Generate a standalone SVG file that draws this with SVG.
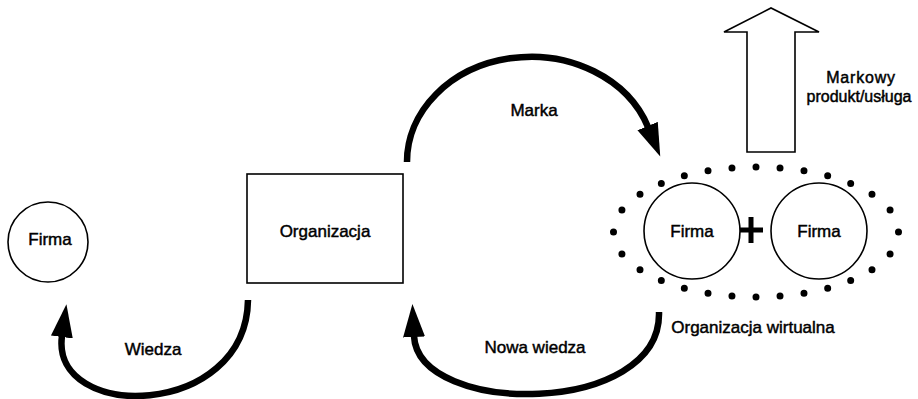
<svg xmlns="http://www.w3.org/2000/svg" width="918" height="399" viewBox="0 0 918 399">
  <style>
    .t { font-family: "Liberation Sans", Arial, sans-serif; font-size: 17px; font-weight: normal; fill: #000; stroke: #000; stroke-width: 0.45; text-anchor: middle; }
    .small { font-size: 16px; }
    .shape { fill: #fff; stroke: #000; stroke-width: 1.6; }
    .flow { fill: none; stroke: #000; stroke-width: 6.5; }
  </style>
  <defs>
    <marker id="head" markerUnits="userSpaceOnUse" markerWidth="34" markerHeight="24" refX="1" refY="12" orient="auto">
      <path d="M0,1 L33,12 L0,23 z" fill="#000"/>
    </marker>
  </defs>
  <rect width="918" height="399" fill="#fff"/>

  <g id="firma-left">
    <circle class="shape" cx="48" cy="242" r="40"/>
    <text class="t" x="50" y="245">Firma</text>
  </g>

  <g id="organizacja">
    <rect class="shape" x="247" y="174" width="156" height="109"/>
    <text class="t" x="325" y="237">Organizacja</text>
  </g>

  <g id="organizacja-wirtualna">
    <path d="M898.5,232 A142.5,65 0 1 1 613.5,232 A142.5,65 0 1 1 898.5,232" pathLength="28" fill="none" stroke="#000" stroke-width="7" stroke-linecap="round" stroke-dasharray="0 1"/>
    <g id="firma-1">
      <circle class="shape" cx="692" cy="231" r="48"/>
      <text class="t" x="692" y="237">Firma</text>
    </g>
    <g id="firma-2">
      <circle class="shape" cx="819" cy="231" r="48"/>
      <text class="t" x="819" y="237">Firma</text>
    </g>
    <path d="M740,230 H763 M751,217 V243" stroke="#000" stroke-width="5" fill="none"/>
    <text class="t" x="753" y="333">Organizacja wirtualna</text>
  </g>

  <g id="markowy-produkt">
    <path class="shape" d="M747,152 V32 H724 L771,8 L819,32 H795 V152 Z"/>
    <text class="t small" x="861" y="83" letter-spacing="0.8">Markowy</text>
    <text class="t small" x="859" y="102">produkt/usługa</text>
  </g>

  <g id="connectors">
    <path class="flow" d="M248,300 C246,420 50,422 62,336" marker-end="url(#head)"/>
    <text class="t" x="153" y="355">Wiedza</text>
    <path class="flow" d="M407,162 A124,105 0 0 1 648,127" marker-end="url(#head)"/>
    <text class="t" x="534" y="116">Marka</text>
    <path class="flow" d="M659,312 C662,417 418,417 414,336" marker-end="url(#head)"/>
    <text class="t" x="535" y="353">Nowa wiedza</text>
  </g>
</svg>
